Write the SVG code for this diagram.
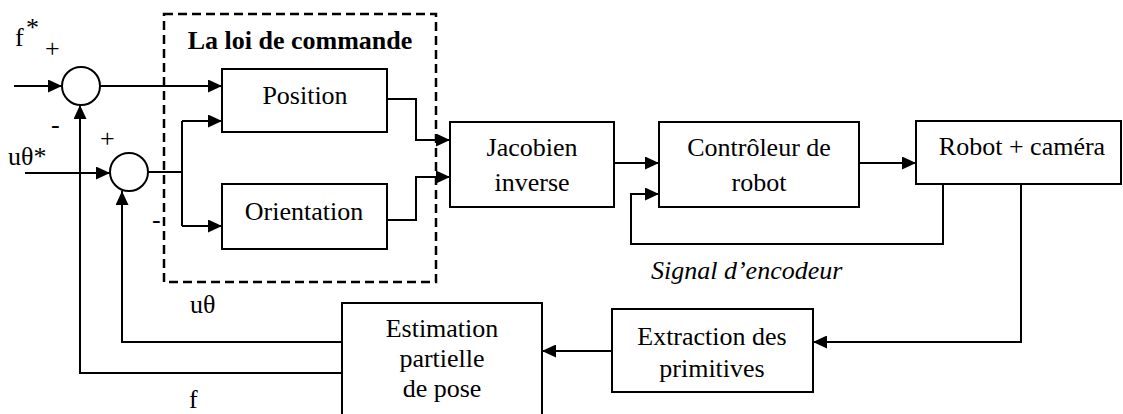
<svg xmlns="http://www.w3.org/2000/svg" width="1123" height="414" viewBox="0 0 1123 414">
<style>
.box{fill:#fff;stroke:#000;stroke-width:2}
.sum{fill:#fff;stroke:#000;stroke-width:2}
.ln{fill:none;stroke:#000;stroke-width:2}
.t{font-family:"Liberation Serif","Times New Roman",serif;font-size:26px;fill:#000}
.c{text-anchor:middle}
</style>
<defs>
<marker id="ah" markerUnits="userSpaceOnUse" markerWidth="15" markerHeight="13" refX="14" refY="6.5" orient="auto">
<path d="M0,0 L14,6.5 L0,13 z" fill="#000"/>
</marker>
</defs>
<rect x="0" y="0" width="1123" height="414" fill="#fff"/>

<g id="control-law-frame">
<rect x="164" y="14" width="272" height="268" fill="none" stroke="#000" stroke-width="2.5" stroke-dasharray="9 5"/>
<text class="t c" x="300" y="49" font-weight="bold">La loi de commande</text>
</g>

<g id="connectors">
<path class="ln" d="M14,86 H62" marker-end="url(#ah)"/>
<path class="ln" d="M100,86 H222" marker-end="url(#ah)"/>
<path class="ln" d="M25,173 H110" marker-end="url(#ah)"/>
<path class="ln" d="M148,172 H182 M182,121 V226"/>
<path class="ln" d="M182,121 H222" marker-end="url(#ah)"/>
<path class="ln" d="M182,226 H222" marker-end="url(#ah)"/>
<path class="ln" d="M387,99 H416 V140 H450" marker-end="url(#ah)"/>
<path class="ln" d="M387,220 H416 V177 H450" marker-end="url(#ah)"/>
<path class="ln" d="M614,163 H659" marker-end="url(#ah)"/>
<path class="ln" d="M859,163 H916" marker-end="url(#ah)"/>
<path class="ln" d="M943,184 V244 H631 V194 H659" marker-end="url(#ah)"/>
<path class="ln" d="M1021,184 V342 H813" marker-end="url(#ah)"/>
<path class="ln" d="M612,351 H542" marker-end="url(#ah)"/>
<path class="ln" d="M342,342 H122 V191" marker-end="url(#ah)"/>
<path class="ln" d="M342,373 H80 V105" marker-end="url(#ah)"/>
</g>

<g id="sum1">
<circle class="sum" cx="81" cy="86" r="19"/>
</g>
<g id="sum2">
<circle class="sum" cx="129" cy="172" r="19"/>
</g>

<g id="position">
<rect class="box" x="222" y="69" width="165" height="63"/>
<text class="t c" x="305" y="104">Position</text>
</g>
<g id="orientation">
<rect class="box" x="222" y="184" width="165" height="65"/>
<text class="t c" x="304" y="220">Orientation</text>
</g>
<g id="jacobien">
<rect class="box" x="450" y="122" width="164" height="85"/>
<text class="t c" x="532" y="156">Jacobien</text>
<text class="t c" x="532" y="191">inverse</text>
</g>
<g id="controleur">
<rect class="box" x="659" y="122" width="200" height="85"/>
<text class="t c" x="759" y="156">Contrôleur de</text>
<text class="t c" x="759" y="191">robot</text>
</g>
<g id="robot">
<rect class="box" x="916" y="121" width="205" height="63"/>
<text class="t c" x="1022" y="155">Robot + caméra</text>
</g>
<g id="extraction">
<rect class="box" x="612" y="309" width="201" height="83"/>
<text class="t c" x="712" y="345">Extraction des</text>
<text class="t c" x="712" y="377">primitives</text>
</g>
<g id="estimation">
<rect class="box" x="342" y="303" width="200" height="115"/>
<text class="t c" x="442" y="337">Estimation</text>
<text class="t c" x="442" y="367">partielle</text>
<text class="t c" x="442" y="397">de pose</text>
</g>

<g id="labels">
<text class="t" x="15" y="46">f</text>
<text class="t" x="26" y="36" font-size="16">*</text>
<text class="t" x="45" y="57">+</text>
<text class="t" x="51" y="133">-</text>
<text class="t" x="100" y="147">+</text>
<text class="t" x="8" y="165">uθ*</text>
<text class="t" x="152" y="228">-</text>
<text class="t" x="190" y="313" font-size="24">uθ</text>
<text class="t" x="189" y="408" font-size="24">f</text>
<text class="t" x="651" y="279" font-size="24" font-style="italic">Signal d’encodeur</text>
</g>
</svg>
